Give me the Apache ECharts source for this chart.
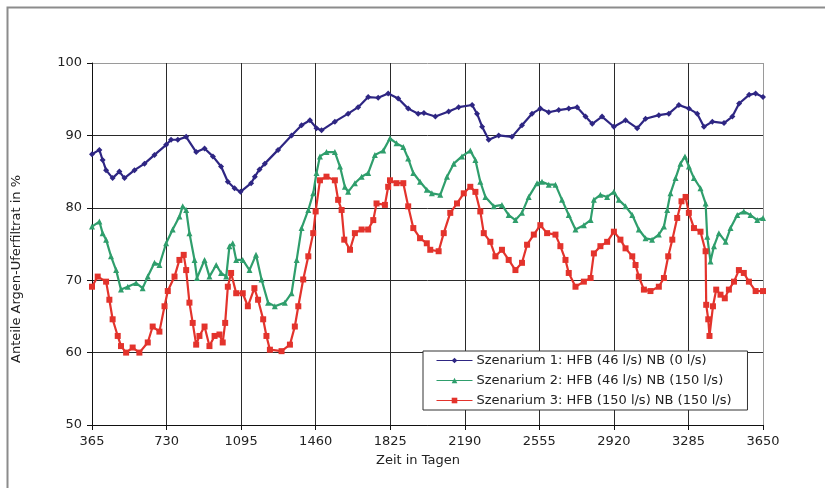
<!DOCTYPE html>
<html>
<head>
<meta charset="utf-8">
<script src="https://cdn.jsdelivr.net/npm/echarts@6/dist/echarts.min.js"></script>
<style>
  html, body { margin: 0; padding: 0; background: #fff; }
  #chart { width: 825px; height: 488px; }
</style>
</head>
<body>
<div id="chart"></div>
<script>
// Anteile Argen-Uferfiltrat [%] über der Zeit [Tage] für drei Pumpszenarien
const seriesNames = [
  'Szenarium 1: HFB (46 l/s) NB (0 l/s)',
  'Szenarium 2: HFB (46 l/s) NB (150 l/s)',
  'Szenarium 3: HFB (150 l/s) NB (150 l/s)'
];
const xTitle = 'Zeit in Tagen';
const yTitle = 'Anteile Argen-Uferfiltrat in %';

const dayTicks = [365, 730, 1095, 1460, 1825, 2190, 2555, 2920, 3285, 3650];
const percentTicks = [50, 60, 70, 80, 90, 100];

const scenario1 = [
  [365,87.4],[401,88.0],[417,86.6],[434,85.2],[466,84.1],[499,85.0],[524,84.1],[573,85.2],
  [622,86.1],[671,87.3],[728,88.7],[752,89.4],[785,89.4],[826,89.8],[875,87.7],[916,88.2],
  [957,87.1],[997,85.7],[1030,83.6],[1063,82.7],[1092,82.2],[1144,83.4],[1162,84.3],[1185,85.3],
  [1211,86.1],[1276,88.0],[1342,90.0],[1391,91.4],[1432,92.1],[1464,91.0],[1489,90.7],[1554,91.9],
  [1619,93.0],[1668,93.9],[1717,95.3],[1766,95.2],[1815,95.8],[1864,95.1],[1913,93.7],[1962,93.0],
  [1990,93.1],[2046,92.6],[2111,93.3],[2160,93.9],[2226,94.2],[2250,93.0],[2275,91.2],[2307,89.4],
  [2356,90.0],[2421,89.8],[2470,91.4],[2519,93.0],[2560,93.7],[2601,93.2],[2650,93.5],[2699,93.7],
  [2740,93.9],[2781,92.6],[2814,91.6],[2862,92.6],[2920,91.2],[2977,92.1],[3034,91.0],[3075,92.3],
  [3140,92.8],[3189,93.0],[3238,94.2],[3287,93.7],[3328,93.0],[3361,91.2],[3402,91.9],[3459,91.7],
  [3500,92.6],[3533,94.4],[3582,95.6],[3614,95.8],[3650,95.3]
];

const scenario2 = [
  [365,77.4],[401,78.1],[417,76.5],[434,75.6],[458,73.3],[483,71.4],[507,68.7],[540,69.1],
  [581,69.6],[613,68.9],[638,70.5],[671,72.4],[695,72.1],[728,75.1],[760,77.0],[793,78.8],
  [809,80.2],[826,79.7],[842,76.5],[867,72.8],[879,70.3],[916,72.8],[940,70.5],[973,72.1],
  [997,71.0],[1022,70.5],[1038,74.7],[1054,75.1],[1071,72.8],[1103,72.8],[1136,71.4],[1168,73.5],
  [1195,70.1],[1227,66.9],[1260,66.4],[1309,66.9],[1342,68.2],[1367,72.8],[1391,77.2],[1424,79.7],
  [1448,82.0],[1464,84.8],[1481,87.1],[1513,87.7],[1554,87.7],[1579,85.7],[1603,82.9],[1619,82.2],
  [1652,83.4],[1685,84.3],[1717,84.8],[1750,87.3],[1791,87.9],[1824,89.6],[1856,88.9],[1889,88.4],
  [1913,86.8],[1938,84.8],[1971,83.6],[2004,82.5],[2029,82.0],[2070,81.8],[2103,84.3],[2136,86.1],
  [2176,87.1],[2217,87.9],[2242,86.6],[2266,83.6],[2291,81.5],[2332,80.2],[2372,80.4],[2405,79.0],
  [2438,78.3],[2470,79.3],[2503,81.5],[2544,83.4],[2568,83.6],[2601,83.2],[2634,83.2],[2666,81.1],
  [2699,79.0],[2732,77.0],[2773,77.6],[2806,78.3],[2822,81.1],[2854,81.8],[2887,81.5],[2920,82.2],
  [2944,81.1],[2977,80.2],[3010,79.0],[3042,77.0],[3075,75.8],[3107,75.6],[3140,76.3],[3165,77.4],
  [3181,79.7],[3197,82.0],[3222,84.1],[3246,86.1],[3268,87.1],[3287,85.7],[3312,84.1],[3344,82.7],
  [3369,80.6],[3377,76.0],[3393,72.6],[3410,74.7],[3434,76.5],[3467,75.3],[3491,77.2],[3524,79.0],
  [3556,79.5],[3589,79.0],[3622,78.3],[3650,78.6]
];

const scenario3 = [
  [365,69.1],[393,70.5],[434,69.8],[450,67.3],[466,64.6],[491,62.3],[507,60.9],[532,60.0],
  [564,60.7],[597,60.0],[638,61.4],[662,63.6],[695,62.9],[720,66.4],[736,68.5],[769,70.5],
  [793,72.8],[814,73.5],[826,71.4],[842,66.9],[858,64.1],[875,61.1],[891,62.3],[916,63.6],
  [940,60.9],[965,62.3],[989,62.5],[1005,61.4],[1017,64.1],[1030,69.1],[1046,71.0],[1071,68.2],
  [1103,68.2],[1128,66.4],[1160,68.9],[1178,67.3],[1203,64.6],[1219,62.3],[1236,60.4],[1293,60.2],
  [1334,61.1],[1358,63.6],[1375,66.4],[1399,70.1],[1424,73.3],[1448,76.5],[1460,79.5],[1481,83.8],
  [1513,84.3],[1554,83.8],[1570,81.1],[1587,79.7],[1600,75.6],[1628,74.2],[1652,76.5],[1685,77.0],
  [1717,77.0],[1742,78.3],[1758,80.6],[1799,80.4],[1815,82.9],[1824,83.8],[1856,83.4],[1889,83.4],
  [1913,80.2],[1938,77.2],[1971,75.8],[2004,75.1],[2021,74.2],[2062,74.0],[2087,76.5],[2119,79.3],
  [2152,80.6],[2185,82.0],[2217,82.9],[2242,82.2],[2266,79.5],[2283,76.5],[2315,75.3],[2340,73.3],
  [2372,74.2],[2405,72.8],[2438,71.4],[2470,72.4],[2495,74.9],[2528,76.3],[2560,77.6],[2593,76.5],
  [2634,76.3],[2658,74.7],[2683,72.8],[2699,71.0],[2732,69.1],[2773,69.8],[2806,70.3],[2822,73.7],
  [2854,74.7],[2887,75.3],[2920,76.7],[2952,75.6],[2977,74.4],[3010,73.3],[3026,72.1],[3042,70.5],
  [3067,68.7],[3099,68.5],[3140,69.1],[3165,70.3],[3186,73.3],[3206,75.6],[3230,78.6],[3251,80.9],
  [3271,81.5],[3287,79.3],[3312,77.2],[3344,76.7],[3369,74.0],[3372,66.6],[3382,64.6],[3388,62.3],
  [3405,66.4],[3421,68.7],[3442,68.0],[3463,67.5],[3483,68.7],[3508,69.8],[3532,71.4],[3556,71.0],
  [3581,69.8],[3614,68.5],[3650,68.5]
];

const FONT = 'DejaVu Sans';
const TEXT = '#222';
const GRID_DARK = '#2a2a2a';
const GRID_EDGE = '#9a9a9a';

const chart = echarts.init(document.getElementById('chart'), null, { renderer: 'canvas' });

// split lines: dark inside, light grey on the top / right frame edge
const xSplitColors = dayTicks.map((d, i) => i === dayTicks.length - 1 ? GRID_EDGE : GRID_DARK);
const ySplitColors = percentTicks.map((d, i) => i === percentTicks.length - 1 ? GRID_EDGE : GRID_DARK);

function lineSeries(name, data, color, symbol, size) {
  return {
    name: name,
    type: 'line',
    data: data,
    symbol: symbol,
    symbolSize: size,
    showAllSymbol: true,
    lineStyle: { color: color, width: 2.2 },
    itemStyle: { color: color, borderWidth: 0 },
    emphasis: { disabled: true },
    animation: false,
    z: 3
  };
}

chart.setOption({
  backgroundColor: '#fff',
  animation: false,
  textStyle: { fontFamily: FONT, color: TEXT },
  graphic: [
    {
      // outer figure frame
      type: 'rect',
      left: 5, top: 5,
      shape: { width: 900, height: 600 },
      style: { fill: 'none', stroke: '#8c8c8c', lineWidth: 2 },
      silent: true,
      z: -10
    },
    {
      type: 'text',
      x: 418, y: 461,
      style: { text: xTitle, font: '13px "DejaVu Sans"', fill: TEXT, align: 'center', verticalAlign: 'middle' },
      silent: true
    },
    {
      type: 'text',
      x: 17, y: 269,
      rotation: Math.PI / 2,
      style: { text: yTitle, font: '13px "DejaVu Sans"', fill: TEXT, align: 'center', verticalAlign: 'middle' },
      silent: true
    }
  ],
  grid: { left: 92, right: 62, top: 63, bottom: 63, containLabel: false },
  xAxis: {
    type: 'value',
    min: dayTicks[0],
    max: dayTicks[dayTicks.length - 1],
    interval: 365,
    axisLine: { show: true, onZero: false, lineStyle: { color: '#111', width: 1 } },
    axisTick: { show: true, length: 5, lineStyle: { color: '#111' } },
    axisLabel: { fontFamily: FONT, fontSize: 13, color: TEXT, margin: 10, formatter: v => String(v) },
    splitLine: { show: true, lineStyle: { color: xSplitColors, width: 1 } }
  },
  yAxis: {
    type: 'value',
    min: percentTicks[0],
    max: percentTicks[percentTicks.length - 1],
    interval: 10,
    axisLine: { show: true, onZero: false, lineStyle: { color: '#111', width: 1 } },
    axisTick: { show: true, length: 5, lineStyle: { color: '#111' } },
    axisLabel: { fontFamily: FONT, fontSize: 13, color: TEXT, margin: 10, formatter: v => String(v) },
    splitLine: { show: true, lineStyle: { color: ySplitColors, width: 1 } }
  },
  legend: {
    orient: 'vertical',
    left: 423,
    top: 351,
    backgroundColor: '#fff',
    borderColor: '#333',
    borderWidth: 1,
    padding: [3, 16, 3, 13],
    itemGap: 7,
    itemWidth: 36,
    itemHeight: 7,
    lineStyle: { width: 1 },
    textStyle: { fontFamily: FONT, fontSize: 13, color: TEXT, padding: [0, 0, 0, -1] },
    data: seriesNames,
    z: 10
  },
  series: [
    lineSeries(seriesNames[0], scenario1, '#2e2683', 'diamond', 6),
    lineSeries(seriesNames[1], scenario2, '#2f9e6c', 'triangle', 6),
    lineSeries(seriesNames[2], scenario3, '#e3332c', 'rect', 6)
  ]
});
</script>
</body>
</html>
